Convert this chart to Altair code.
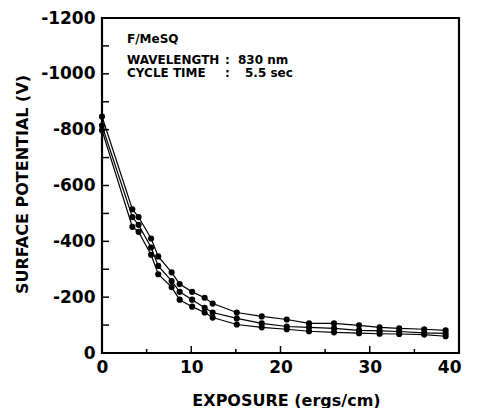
import altair as alt
import pandas as pd

# ---- data ----
exposure = [0, 3.4, 4.1, 5.5, 6.3, 7.8, 8.7, 10.1, 11.5, 12.4, 15.1, 17.9,
            20.7, 23.2, 26.0, 28.8, 31.1, 33.3, 36.1, 38.5]
potential_a = [-847, -515, -487, -410, -346, -289, -247, -219, -198, -177, -145,
               -131, -120, -106, -106, -99, -92, -88, -85, -81]
potential_b = [-815, -487, -459, -378, -312, -258, -219, -191, -162, -145, -124,
               -106, -95, -92, -88, -81, -79, -77, -72, -70]
potential_c = [-798, -452, -434, -352, -282, -236, -191, -166, -145, -127, -102,
               -92, -85, -78, -74, -71, -69, -68, -66, -60]
series_names = ["A", "B", "C"]

y_tick_labels = [0, -200, -400, -600, -800, -1000, -1200]
y_minor_ticks = [-100, -200, -300, -400, -500, -600, -700, -800, -900, -1000, -1100]
x_tick_labels = [0, 10, 20, 30, 40]
x_major_ticks = [10, 20, 30]
x_minor_ticks = [5, 15, 25, 35]

sample_text = "F/MeSQ"
param_names = ["WAVELENGTH", "CYCLE TIME"]
param_values = ["830 nm", "5.5 sec"]

rows = []
for name, vals in zip(series_names, [potential_a, potential_b, potential_c]):
    for xv, yv in zip(exposure, vals):
        rows.append({"series": name, "x": xv, "v": yv})
df = pd.DataFrame(rows)

FONT = "DejaVu Sans"
H = 335
xscale = alt.Scale(domain=[0, 40], nice=False, zero=False)
yscale = alt.Scale(domain=[0, -1200], nice=False, zero=False)

x_axis = alt.Axis(
    values=x_tick_labels, ticks=False, domain=False, grid=False,
    labelFont=FONT, labelFontWeight="bold", labelFontSize=17, labelColor="black",
    labelPadding=6, labelFlush=False,
    labelAlign={"condition": {"test": "datum.value == 40", "value": "right"}, "value": "center"},
    labelOffset={"condition": {"test": "datum.value == 40", "value": 2}, "value": 0},
    title="EXPOSURE (ergs/cm)", titleFont=FONT, titleFontWeight="bold",
    titleFontSize=16, titleColor="black", titleX=184, titleY=52,
    titleBaseline="alphabetic", titleAlign="center",
)
y_axis = alt.Axis(
    values=y_tick_labels, ticks=False, domain=False, grid=False,
    labelExpr="datum.value == 0 ? '0' : '-' + abs(datum.value)",
    labelFont=FONT, labelFontWeight="bold", labelFontSize=17, labelColor="black",
    labelPadding=7,
    title="SURFACE POTENTIAL  (V)", titleFont=FONT, titleFontWeight="bold",
    titleFontSize=16, titleColor="black", titleX=-80, titleY=166,
    titleAngle=270, titleAlign="center", titleBaseline="middle",
)

X = lambda f: alt.X(f, scale=xscale, axis=x_axis)
Y = lambda f: alt.Y(f, scale=yscale, axis=y_axis)

lines = alt.Chart(df).mark_line(color="black", strokeWidth=1.2).encode(
    x=X("x:Q"), y=Y("v:Q"), detail="series:N", order="x:Q",
)
points = alt.Chart(df).mark_circle(color="black", size=38, opacity=1).encode(
    x=X("x:Q"), y=Y("v:Q"), detail="series:N",
)

ytick_df = pd.DataFrame({"v": y_minor_ticks})
yticks = alt.Chart(ytick_df).mark_rule(color="black", strokeWidth=1.5).encode(
    y=Y("v:Q"), x=alt.value(0), x2=alt.value(7),
)
xmaj_df = pd.DataFrame({"x": x_major_ticks})
xmaj = alt.Chart(xmaj_df).mark_rule(color="black", strokeWidth=1.5).encode(
    x=X("x:Q"), y=alt.value(H), y2=alt.value(H - 7),
)
xmin_df = pd.DataFrame({"x": x_minor_ticks})
xmin = alt.Chart(xmin_df).mark_rule(color="black", strokeWidth=1.5).encode(
    x=X("x:Q"), y=alt.value(H), y2=alt.value(H - 4),
)

def txt(s, x, y):
    return alt.Chart(pd.DataFrame({"t": [s]})).mark_text(
        font=FONT, fontWeight="bold", fontSize=12, color="black",
        align="left", baseline="alphabetic",
    ).encode(text="t:N", x=alt.value(x), y=alt.value(y))

texts = [
    txt(sample_text, 25, 25),
    txt(param_names[0], 25, 46),
    txt(":", 123, 46),
    txt(param_values[0], 136, 46),
    txt(param_names[1], 25, 59),
    txt(":", 123, 59),
    txt(param_values[1], 143, 59),
]

chart = alt.layer(lines, points, yticks, xmaj, xmin, *texts).properties(
    width=357, height=H,
    autosize=alt.AutoSizeParams(type="none"),
    padding={"left": 94, "top": 10, "right": 10, "bottom": 55},
).configure(
    background="white",
    view=alt.ViewConfig(stroke="black", strokeWidth=2.2),
)

chart.save("out.html", embed_options={"renderer": "svg", "actions": False})
